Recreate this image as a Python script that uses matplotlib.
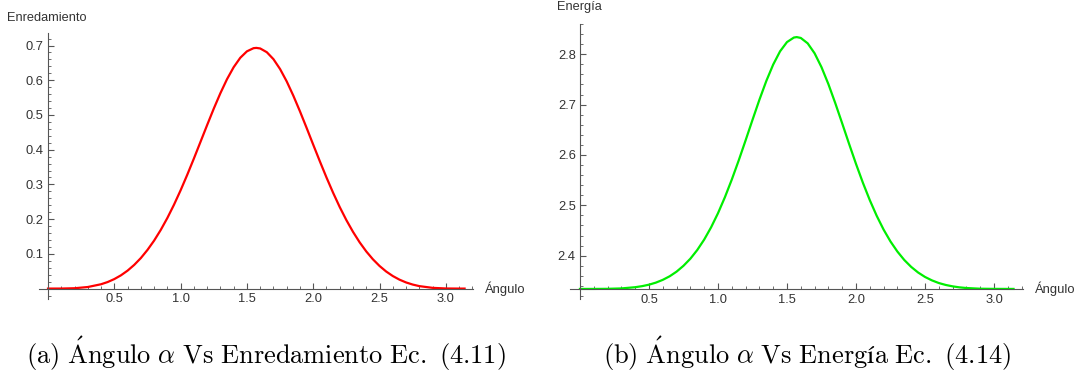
import numpy as np
import matplotlib
matplotlib.use("Agg")
import matplotlib.pyplot as plt
from matplotlib.ticker import MultipleLocator

plt.rcParams['font.family'] = ['Liberation Sans', 'DejaVu Sans']
plt.rcParams['mathtext.fontset'] = 'cm'

# angle samples (rad) and values
angulo = [0.0, 0.1, 0.2, 0.3, 0.4, 0.45, 0.5, 0.55, 0.6, 0.65, 0.7, 0.75, 0.8, 0.85,
          0.9, 0.95, 1.0, 1.05, 1.1, 1.15, 1.2, 1.25, 1.3, 1.35, 1.4, 1.45, 1.5, 1.55,
          1.5708, 1.6, 1.65, 1.7, 1.75, 1.8, 1.85, 1.9, 1.95, 2.0, 2.05, 2.1, 2.15,
          2.2, 2.25, 2.3, 2.35, 2.4, 2.45, 2.5, 2.55, 2.6, 2.65, 2.7, 2.75, 2.8, 2.9,
          3.0, 3.1, 3.1416]
enredamiento = [0.0, 0.0001, 0.0010, 0.0045, 0.0125, 0.0189, 0.0274, 0.0382, 0.0517,
                0.0682, 0.0879, 0.1113, 0.1381, 0.1688, 0.2033, 0.2415, 0.2831, 0.3277,
                0.3744, 0.4226, 0.4709, 0.5182, 0.5627, 0.6031, 0.6375, 0.6647, 0.6832,
                0.6923, 0.6931, 0.6915, 0.6807, 0.6607, 0.6322, 0.5967, 0.5555, 0.5104,
                0.4629, 0.4144, 0.3665, 0.3200, 0.2759, 0.2347, 0.1972, 0.1634, 0.1333,
                0.1070, 0.0844, 0.0652, 0.0492, 0.0362, 0.0258, 0.0177, 0.0116, 0.0071,
                0.0021, 0.0003, 0.0, 0.0]
energia = [2.3340, 2.3340, 2.3342, 2.3350, 2.3374, 2.3395, 2.3424, 2.3465, 2.3520,
           2.3591, 2.3683, 2.3799, 2.3940, 2.4113, 2.4319, 2.4562, 2.4842, 2.5159,
           2.5510, 2.5889, 2.6288, 2.6695, 2.7094, 2.7467, 2.7794, 2.8058, 2.8241,
           2.8331, 2.8340, 2.8323, 2.8216, 2.8019, 2.7743, 2.7407, 2.7028, 2.6627,
           2.6220, 2.5823, 2.5448, 2.5103, 2.4792, 2.4518, 2.4282, 2.4082, 2.3914,
           2.3777, 2.3666, 2.3578, 2.3510, 2.3457, 2.3419, 2.3391, 2.3371, 2.3358,
           2.3344, 2.3341, 2.3340, 2.3340]

W, H = 1079, 372
fig = plt.figure(figsize=(W / 100, H / 100), dpi=100)


def px_axes(x0, x1, ytop, ybot):
    return fig.add_axes([x0 / W, 1 - ybot / H, (x1 - x0) / W, (ybot - ytop) / H])


def mathematica_style(ax, y0):
    for s in ['top', 'right']:
        ax.spines[s].set_visible(False)
    ax.spines['left'].set_position(('data', 0))
    ax.spines['bottom'].set_position(('data', y0))
    for s in ['left', 'bottom']:
        ax.spines[s].set_color('#555555')
        ax.spines[s].set_linewidth(0.8)
    ax.tick_params(which='both', direction='in', colors='#555555', labelcolor='#333333',
                   labelsize=9.3)
    ax.tick_params(which='major', length=4, width=0.8)
    ax.tick_params(which='minor', length=2, width=0.6)
    ax.tick_params(axis='y', pad=3)
    ax.xaxis.set_minor_locator(MultipleLocator(0.1))
    ax.yaxis.set_minor_locator(MultipleLocator(0.02))
    ax.set_xticks([0.5, 1.0, 1.5, 2.0, 2.5, 3.0])
    ax.set_xticklabels(['0.5', '1.0', '1.5', '2.0', '2.5', '3.0'])


# (a) entanglement
ax1 = px_axes(39, 473, 33, 299)
ax1.plot(angulo, enredamiento, color='#ff0000', lw=1.6, solid_joinstyle='round')
ax1.set_xlim(-0.068, 3.205)
ax1.set_ylim(-0.03, 0.736)
mathematica_style(ax1, 0)
ax1.set_yticks([0.1, 0.2, 0.3, 0.4, 0.5, 0.6, 0.7])
ax1.set_yticklabels(['0.1', '0.2', '0.3', '0.4', '0.5', '0.6', '0.7'])

# (b) energy
ax2 = px_axes(570, 1023, 24, 299)
ax2.plot(angulo, energia, color='#00ee00', lw=1.6, solid_joinstyle='round')
ax2.set_xlim(-0.072, 3.21)
ax2.set_ylim(2.314, 2.860)
mathematica_style(ax2, 2.334)
ax2.set_yticks([2.4, 2.5, 2.6, 2.7, 2.8])
ax2.set_yticklabels(['2.4', '2.5', '2.6', '2.7', '2.8'])

fig.text(7 / W, 1 - 18 / H, 'Enredamiento', fontsize=9.2, color='#333333', va='center')
fig.text(557 / W, 1 - 7 / H, 'Energía', fontsize=9.2, color='#333333', va='center')
fig.text(485 / W, 1 - 289 / H, 'Ángulo', fontsize=9.4, color='#333333', va='center')
fig.text(1035 / W, 1 - 289 / H, 'Ángulo', fontsize=9.4, color='#333333', va='center')

fig.text(26 / W, 1 - 364 / H,
         r'$\mathrm{(a)\ \acute{A}ngulo\ }\alpha\mathrm{\ Vs\ Enredamiento\ Ec.\ (4.11)}$',
         fontsize=19, ha='left', va='baseline')
fig.text(603 / W, 1 - 364 / H,
         r'$\mathrm{(b)\ \acute{A}ngulo\ }\alpha\mathrm{\ Vs\ Energía\ Ec.\ (4.14)}$',
         fontsize=19, ha='left', va='baseline')

fig.savefig('out.png', dpi=100)
